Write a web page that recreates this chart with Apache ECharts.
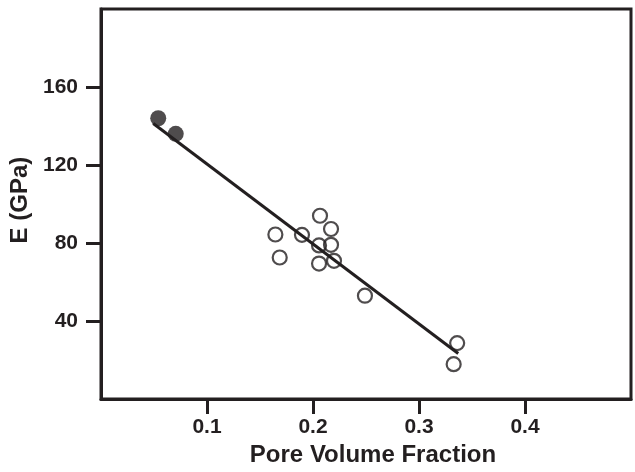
<!DOCTYPE html>
<html>
<head>
<meta charset="utf-8">
<script src="https://cdn.jsdelivr.net/npm/echarts@6/dist/echarts.min.js"></script>
<style>
  html, body { margin: 0; padding: 0; background: #fff; }
  #main { width: 635px; height: 472px; }
</style>
</head>
<body>
<div id="main"></div>
<script>
// filled points (dense samples)
var filledX = [0.054, 0.0705];
var filledY = [144, 136];
// open points
var openX = [0.2066, 0.217, 0.1645, 0.1896, 0.2057, 0.217, 0.1686, 0.2057, 0.2198, 0.249, 0.336, 0.3327];
var openY = [94, 87.2, 84.4, 84.2, 78.8, 79.1, 72.6, 69.5, 70.9, 53, 28.7, 17.9];
// fitted line ends
var fitX = [0.0493, 0.337];
var fitY = [141.3, 23.4];
var xTicks = [0.1, 0.2, 0.3, 0.4];
var yTicks = [40, 80, 120, 160];

var ink = '#231f20';
var font = 'Liberation Sans';

function pairs(xs, ys) {
    return xs.map(function (v, i) { return [v, ys[i]]; });
}

var myChart = echarts.init(document.getElementById('main'));
myChart.setOption({
    animation: false,
    backgroundColor: '#fff',
    grid: {
        left: 101, right: 4, top: 9, bottom: 68,
        show: true, borderColor: ink, borderWidth: 3
    },
    xAxis: {
        type: 'value', min: 0, max: 0.5, interval: 0.1,
        name: 'Pore Volume Fraction',
        nameLocation: 'middle', nameGap: 39,
        nameTextStyle: { fontFamily: font, fontWeight: 'bold', fontSize: 24, color: ink, padding: [0, 0, 0, 14] },
        axisLine: { lineStyle: { color: ink, width: 3 } },
        axisTick: { length: 15, lineStyle: { color: ink, width: 3 }, customValues: xTicks },
        axisLabel: { margin: 18, fontFamily: font, fontWeight: 'bold', fontSize: 21, color: ink,
            customValues: xTicks, formatter: function (v) { return v.toFixed(1); } },
        splitLine: { show: false }
    },
    yAxis: {
        type: 'value', min: 0, max: 200, interval: 40,
        name: 'E (GPa)',
        nameLocation: 'middle', nameGap: 62,
        nameTextStyle: { fontFamily: font, fontWeight: 'bold', fontSize: 24, color: ink, padding: [0, 0, 0, 8] },
        axisLine: { lineStyle: { color: ink, width: 3 } },
        axisTick: { length: 15, lineStyle: { color: ink, width: 3 }, customValues: yTicks },
        axisLabel: { margin: 23, fontFamily: font, fontWeight: 'bold', fontSize: 21, color: ink, customValues: yTicks },
        splitLine: { show: false }
    },
    series: [
        {
            type: 'line',
            data: pairs(fitX, fitY),
            symbol: 'none',
            lineStyle: { color: ink, width: 3 },
            z: 2
        },
        {
            type: 'scatter',
            data: pairs(openX, openY),
            symbol: 'circle', symbolSize: 14,
            itemStyle: { color: 'rgba(0,0,0,0)', borderColor: ink, borderWidth: 2.2 },
            z: 3
        },
        {
            type: 'scatter',
            data: pairs(filledX, filledY),
            symbol: 'circle', symbolSize: 16,
            itemStyle: { color: ink },
            z: 4
        }
    ]
});
</script>
</body>
</html>
